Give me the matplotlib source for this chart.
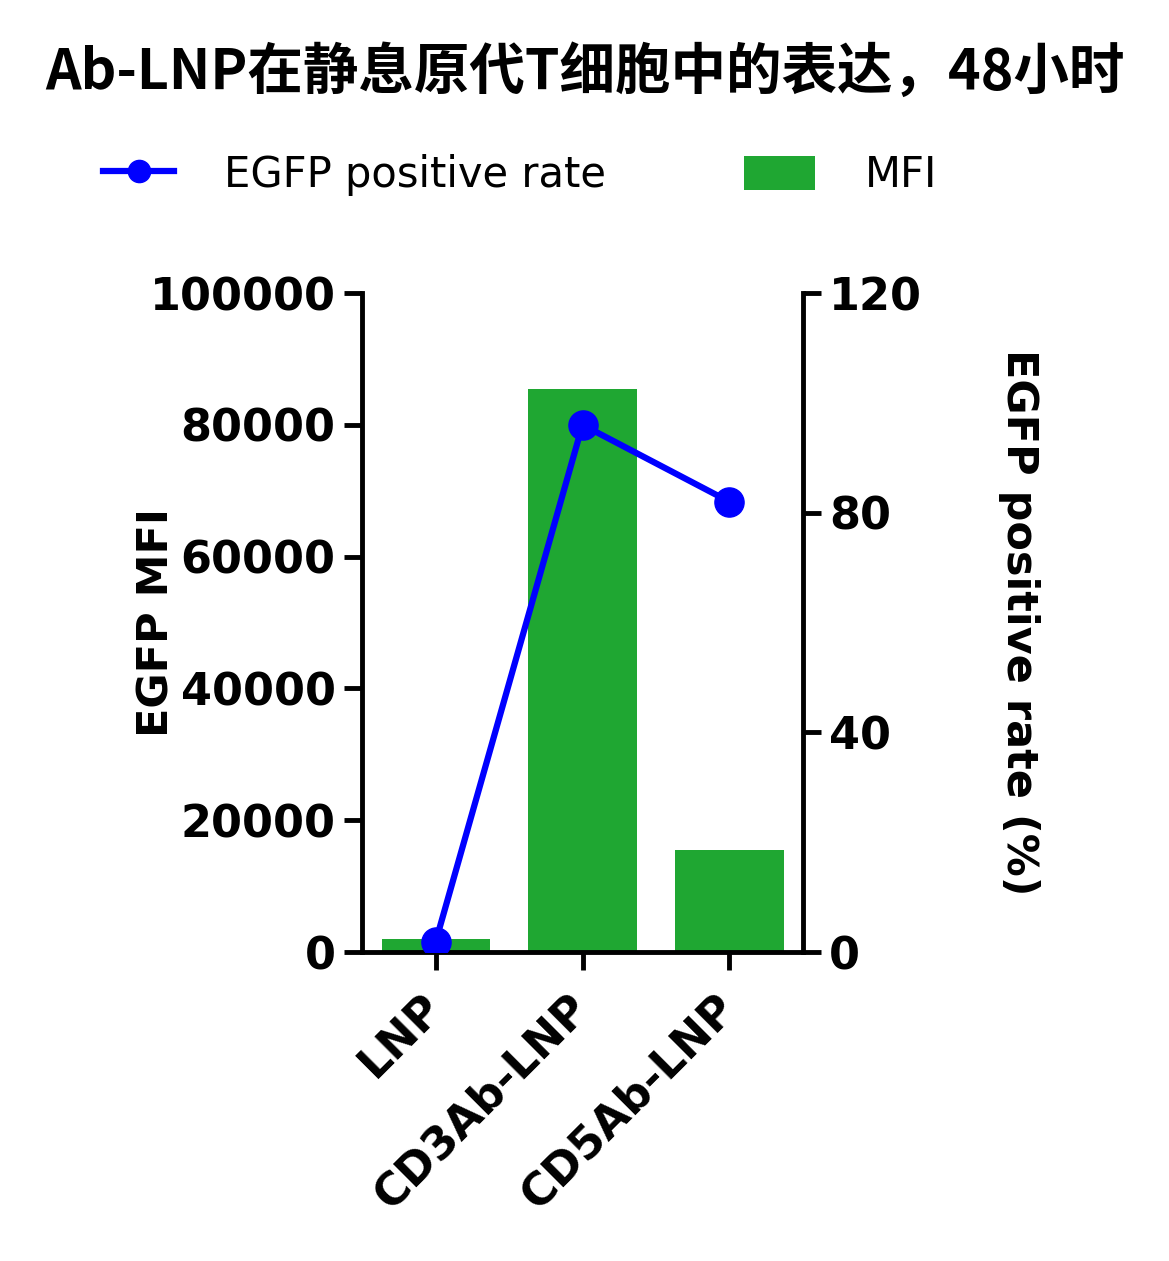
import matplotlib
matplotlib.use("Agg")
import matplotlib.pyplot as plt
from matplotlib.lines import Line2D
from matplotlib.patches import Patch

categories = ["LNP", "CD3Ab-LNP", "CD5Ab-LNP"]
mfi = [2000, 85500, 15500]
positive_rate = [1.8, 96.0, 82.0]
left_ticks = [0, 20000, 40000, 60000, 80000, 100000]
right_ticks = [0, 40, 80, 120]
title = "Ab-LNP在静息原代T细胞中的表达，48小时"

plt.rcParams['font.family'] = ['Noto Sans CJK SC', 'DejaVu Sans']

fig = plt.figure(figsize=(11.69, 12.61), dpi=100)
ax = fig.add_axes([0.3097, 0.2450, 0.3772, 0.5226])
ax2 = ax.twinx()

x = list(range(len(categories)))
green = '#1fa732'
blue = '#0000ff'
ax.bar(x, mfi, width=0.735, color=green, zorder=1)
ax2.plot(x, positive_rate, color=blue, lw=4.5, marker='o', markersize=21, zorder=3)

ax.set_xlim(-0.5, 2.5)
ax.set_ylim(0, 100000)
ax2.set_ylim(0, 120)
ax.set_yticks(left_ticks)
ax2.set_yticks(right_ticks)
ax.set_xticks(x)

tick_font = dict(family=['DejaVu Sans'], weight='bold', size=32)
ax.set_yticklabels([str(t) for t in left_ticks], fontdict=tick_font)
ax2.set_yticklabels([str(t) for t in right_ticks], fontdict=tick_font)
ax.set_xticklabels(categories, fontdict=tick_font, rotation=45, ha='right', va='center',
                   rotation_mode='anchor')

for a in (ax, ax2):
    a.spines['top'].set_visible(False)
    for s in ('left', 'right', 'bottom'):
        a.spines[s].set_linewidth(3.5)
    a.tick_params(width=3.5, length=13, pad=6)
ax.spines['right'].set_visible(False)
ax2.spines['left'].set_visible(False)
ax2.spines['bottom'].set_visible(False)
ax.tick_params(axis='x', pad=22)

label_font = dict(family=['DejaVu Sans'], weight='bold', size=31)
ax.set_ylabel("EGFP MFI", fontdict=label_font, labelpad=-20)
ax2.set_ylabel("EGFP positive rate (%)", fontdict=label_font, rotation=270, labelpad=85)

fig.text(0.5, 0.942, title, ha='center', va='center', fontsize=40, weight='bold',
         family=['Noto Sans CJK SC', 'DejaVu Sans'])

handles = [Line2D([0], [0], color=blue, lw=4.5, marker='o', markersize=16),
           Patch(facecolor=green, edgecolor='none')]
fig.legend(handles, ["EGFP positive rate", "MFI"], loc='center', bbox_to_anchor=(0.445, 0.861),
           ncol=2, frameon=False, handlelength=1.7, handleheight=0.9,
           columnspacing=3.3, handletextpad=1.2, prop=dict(family=['DejaVu Sans'], size=30))

fig.savefig("out.png", dpi=100, facecolor='white')
